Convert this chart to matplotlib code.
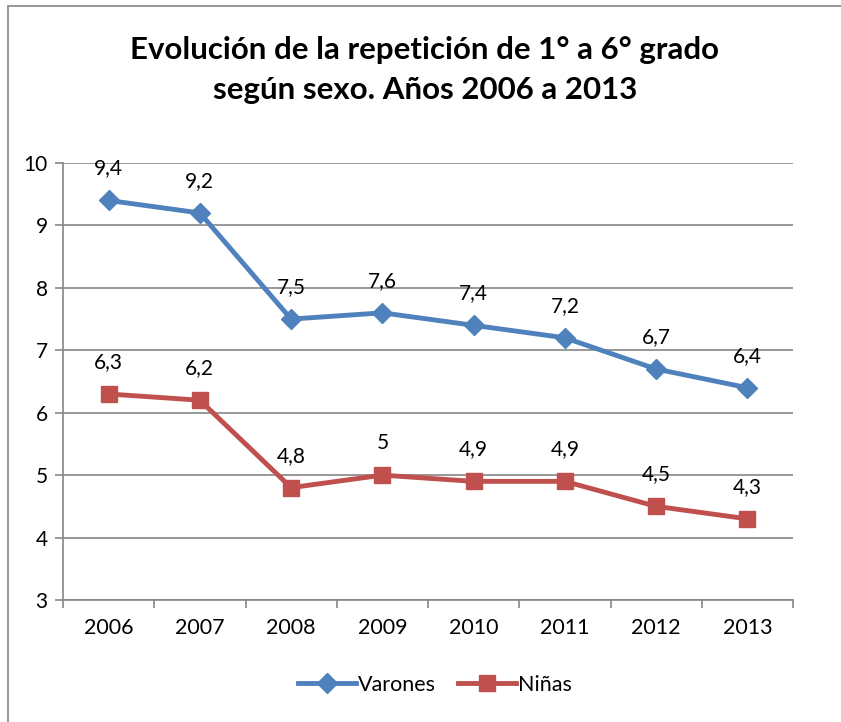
import matplotlib.pyplot as plt
from matplotlib.patches import Rectangle

# Datos del grafico
years = ['2006', '2007', '2008', '2009', '2010', '2011', '2012', '2013']
varones = [9.4, 9.2, 7.5, 7.6, 7.4, 7.2, 6.7, 6.4]
ninas = [6.3, 6.2, 4.8, 5.0, 4.9, 4.9, 4.5, 4.3]
y_ticks = [3, 4, 5, 6, 7, 8, 9, 10]

blue = '#4F81BD'
red = '#C0504D'
grid_col = '#868686'

plt.rcParams['font.family'] = ['Lato', 'DejaVu Sans']

fig = plt.figure(figsize=(8.41, 7.22), dpi=100)
# marco del area del grafico
fig.patches.append(Rectangle((8 / 841, -0.1), 1.2, 1 - 6 / 722 + 0.1,
                             transform=fig.transFigure, fill=False,
                             edgecolor=grid_col, linewidth=1.2))

ax = fig.add_axes([63 / 841, 1 - 600 / 722, 730 / 841, 437 / 722])
x = list(range(len(years)))

ax.plot(x, varones, color=blue, linewidth=3.5, marker='D', markersize=10,
        label='Varones')
ax.plot(x, ninas, color=red, linewidth=3.5, marker='s', markersize=11,
        label='Niñas')

for xi, v in zip(x, varones):
    ax.annotate(f'{v:g}'.replace('.', ','), (xi, v), xytext=(0, 23),
                textcoords='offset points', ha='center', va='center', fontsize=15)
for xi, v in zip(x, ninas):
    ax.annotate(f'{v:g}'.replace('.', ','), (xi, v), xytext=(0, 23),
                textcoords='offset points', ha='center', va='center', fontsize=15)

ax.set_xlim(-0.5, len(years) - 0.5)
ax.set_ylim(3, 10)
ax.set_yticks(y_ticks)
ax.set_yticklabels([str(t) for t in y_ticks], fontsize=15)
ax.yaxis.grid(True, color=grid_col, linewidth=1.2)
ax.set_axisbelow(True)

ax.set_xticks([i - 0.5 for i in range(len(years) + 1)])
ax.set_xticklabels([])
ax.set_xticks(x, minor=True)
ax.set_xticklabels(years, minor=True, fontsize=15.5)
ax.tick_params(axis='x', which='minor', length=0, pad=13)
ax.tick_params(axis='x', which='major', length=6, color=grid_col, width=1.2)
ax.tick_params(axis='y', length=6, color=grid_col, width=1.2, pad=5)

for side in ['top', 'right']:
    ax.spines[side].set_visible(False)
for side in ['left', 'bottom']:
    ax.spines[side].set_color(grid_col)
    ax.spines[side].set_linewidth(1.2)

fig.text(0.505, 1 - 70 / 722,
         'Evolución de la repetición de 1° a 6° grado\nsegún sexo. Años 2006 a 2013',
         ha='center', va='center', fontsize=22.5, fontweight='bold', linespacing=1.5)

fig.legend(loc='center', bbox_to_anchor=(0.517, 1 - 685 / 722), ncol=2,
           frameon=False, fontsize=15.5, handlelength=2.7, handletextpad=0.1,
           columnspacing=1.0)

fig.savefig('out.png', dpi=100)
